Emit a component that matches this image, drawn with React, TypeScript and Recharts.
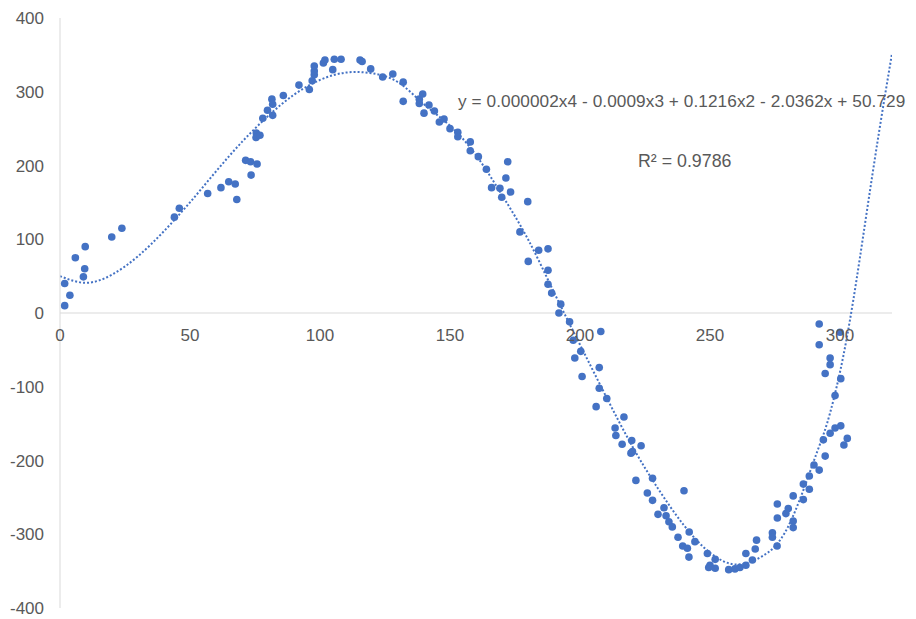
import {
  ComposedChart,
  Scatter,
  Line,
  XAxis,
  YAxis,
  ReferenceLine,
} from "recharts";

const obsX = [
  1.8, 1.8, 3.8, 5.9, 9.0, 9.5, 9.7, 19.9, 23.8, 44.0, 45.9, 56.8, 61.9, 64.9,
  67.4, 68.0, 71.4, 73.3, 73.5, 75.8, 75.5, 75.4, 76.9, 78.0, 79.8, 81.5, 81.8,
  81.8, 85.9, 91.9, 95.9, 97.0, 97.8, 97.8, 97.8, 101.3, 101.9, 104.9, 105.5,
  108.1, 115.4, 116.2, 119.5, 124.1, 128.0, 132.0, 132.0, 138.2, 139.5, 138.2,
  140.0, 141.9, 144.0, 145.9, 147.7, 150.0, 153.0, 153.0, 157.8, 157.8, 160.9,
  164.0, 166.0, 169.2, 169.9, 171.5, 172.2, 173.3, 176.9, 179.9, 180.1, 184.1,
  187.7, 187.7, 187.7, 189.1, 192.6, 191.9, 196.0, 197.4, 200.3, 198.0, 200.8,
  208.0, 207.4, 207.4, 210.3, 206.2, 216.9, 213.5, 213.8, 216.2, 219.9, 219.6,
  220.2, 223.5, 221.5, 227.9, 225.9, 227.9, 232.3, 230.0, 233.1, 234.2, 235.5,
  240.0, 237.7, 242.0, 239.5, 241.3, 241.9, 244.2, 249.0, 252.0, 250.0, 249.5,
  252.0, 257.2, 259.6, 261.5, 263.8, 266.3, 263.8, 267.4, 267.9, 274.0, 274.0,
  275.8, 275.9, 275.9, 279.2, 280.1, 282.0, 282.0, 282.0, 285.9, 285.9, 288.2,
  288.2, 290.0, 292.0, 294.3, 293.6, 296.2, 298.1, 300.3, 302.8, 301.5, 292.0,
  292.0, 296.2, 296.2, 294.3, 300.3, 298.1, 300.0,
];
const obsY = [
  10, 40, 24, 75, 49, 60, 90, 103, 115, 130, 142, 162, 170, 178, 175, 154, 207,
  205, 187, 202, 244, 238, 241, 264, 275, 290, 283, 268, 295, 309, 303, 315,
  323, 328, 335, 339, 343, 330, 344, 344, 343, 341, 331, 320, 324, 313, 287,
  290, 297, 284, 271, 282, 274, 259, 263, 250, 245, 239, 232, 220, 212, 195,
  170, 169, 157, 183, 205, 164, 110, 151, 70, 85, 87, 58, 39, 27, 12, 0, -12,
  -37, -52, -61, -86, -25, -74, -102, -116, -127, -141, -156, -166, -178, -173,
  -190, -188, -180, -227, -224, -244, -254, -264, -273, -275, -283, -290, -241,
  -304, -297, -316, -319, -331, -310, -326, -334, -342, -345, -346, -348, -347,
  -345, -342, -335, -326, -320, -308, -298, -304, -316, -278, -259, -272, -265,
  -282, -291, -248, -253, -232, -239, -221, -206, -213, -194, -172, -163, -156,
  -153, -170, -179, -15, -43, -61, -70, -82, -89, -112, -26,
];

// dotted trendline as drawn in the reference
const trendX = [
  0, 10, 20, 30, 40, 50, 60, 70, 80, 90, 100, 110, 120, 130, 140, 150, 160, 170,
  180, 190, 200, 210, 220, 230, 240, 250, 260, 270, 280, 290, 295, 300, 305,
  310, 315, 320,
];
const trendY = [
  50, 41, 52, 77, 111, 150, 192, 232, 267, 296, 316, 326, 325, 313, 283, 254,
  214, 160, 100, 28, -43, -113, -180, -238, -288, -325, -341, -330, -290, -200,
  -150, -80, 15, 130, 245, 352,
];

const xTicks = [0, 50, 100, 150, 200, 250, 300];
const yTicks = [-400, -300, -200, -100, 0, 100, 200, 300, 400];

const equation = "y = 0.000002x4 - 0.0009x3 + 0.1216x2 - 2.0362x + 50.729";
const rSquared = "R² = 0.9786";

const points = obsX.map((x, i) => ({ x, y: obsY[i] }));
const trend = trendX.map((x, i) => ({ x, y: trendY[i] }));

const BLUE = "#4472C4";
const GREY = "#595959";
const AXIS = "#d9d9d9";
const FONT = "'Liberation Sans', Arial, sans-serif";

const W = 900;
const H = 611;
const TOP = 10;
const PLOT_H = 590;
const ZERO_Y = TOP + PLOT_H / 2;

const XTick = ({ x, payload }: any) => (
  <text
    x={x}
    y={ZERO_Y + 28}
    textAnchor="middle"
    fill={GREY}
    fontSize={17}
    fontFamily={FONT}
  >
    {payload.value}
  </text>
);

const Dot = ({ cx, cy }: any) => <circle cx={cx} cy={cy} r={3.8} fill={BLUE} />;

export default function App() {
  return (
    <div style={{ position: "relative", width: W, height: H }}>
      <ComposedChart
        width={W}
        height={H}
        margin={{ top: TOP, right: 16, bottom: 0, left: 0 }}
      >
        <XAxis
          type="number"
          dataKey="x"
          domain={[0, 320]}
          ticks={xTicks}
          allowDataOverflow
          axisLine={false}
          tickLine={false}
          height={11}
          tick={<XTick />}
        />
        <YAxis
          type="number"
          dataKey="y"
          domain={[-400, 400]}
          ticks={yTicks}
          width={52}
          axisLine={{ stroke: AXIS }}
          tickLine={false}
          tickSize={8}
          tickMargin={8}
          tick={{ fill: GREY, fontSize: 17, fontFamily: FONT }}
        />
        <ReferenceLine y={0} stroke={AXIS} strokeWidth={1} />
        <Line
          data={trend}
          dataKey="y"
          type="natural"
          stroke={BLUE}
          strokeWidth={2}
          strokeDasharray="2 2"
          dot={false}
          activeDot={false}
          isAnimationActive={false}
        />
        <Scatter
          data={points}
          dataKey="y"
          shape={<Dot />}
          isAnimationActive={false}
        />
      </ComposedChart>
      <div
        style={{
          position: "absolute",
          left: 450,
          top: 83,
          fontFamily: FONT,
          fontSize: 17.2,
          letterSpacing: 0.08,
          color: GREY,
          whiteSpace: "nowrap",
        }}
      >
        {equation}
      </div>
      <div
        style={{
          position: "absolute",
          left: 630,
          top: 143,
          fontFamily: FONT,
          fontSize: 17.8,
          color: GREY,
          whiteSpace: "nowrap",
        }}
      >
        {rSquared}
      </div>
    </div>
  );
}
